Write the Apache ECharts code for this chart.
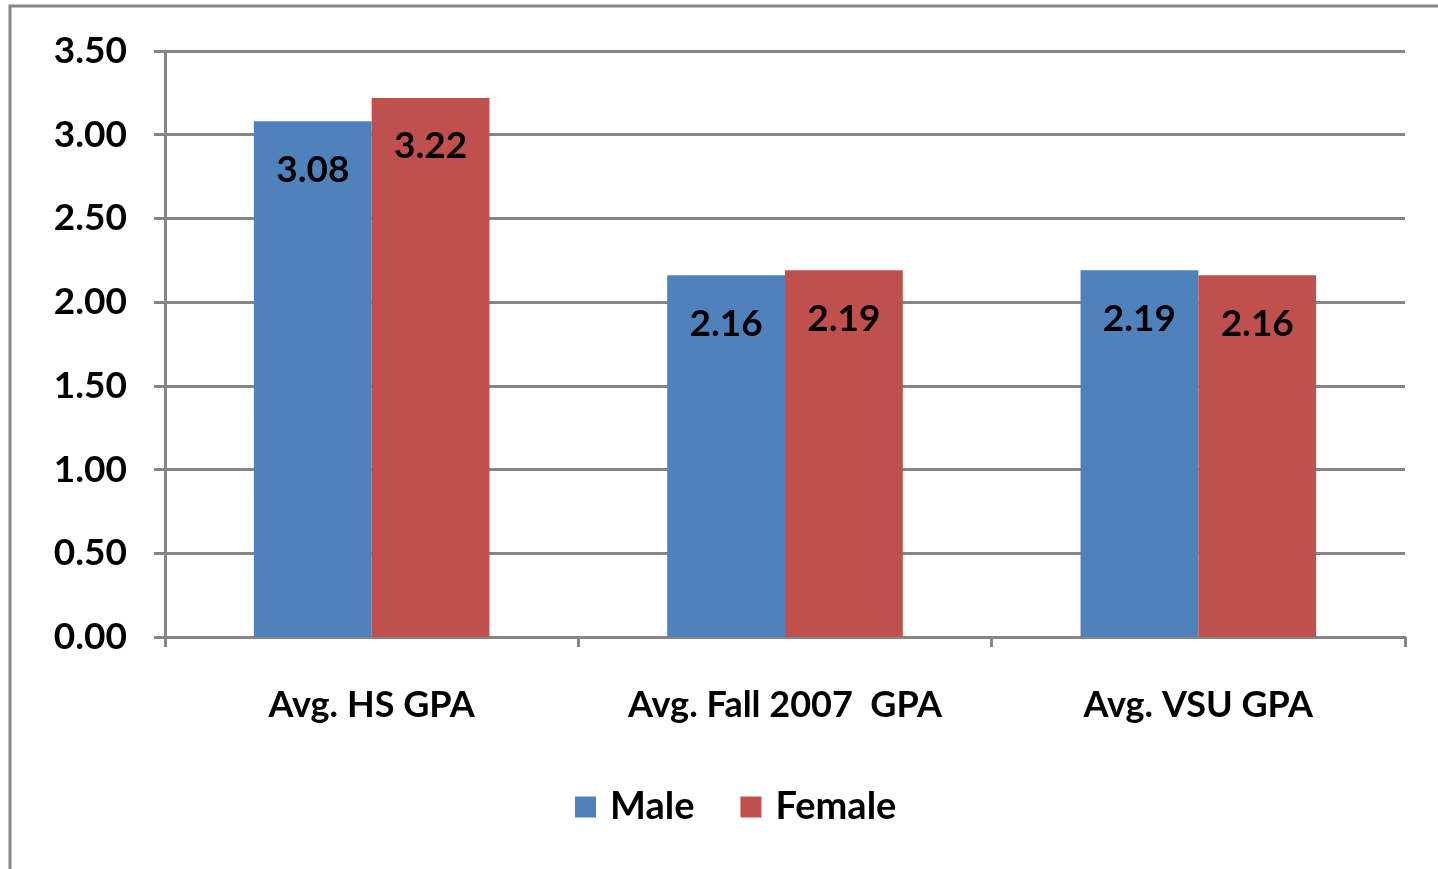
<!DOCTYPE html>
<html>
<head>
<meta charset="utf-8">
<script src="https://cdn.jsdelivr.net/npm/echarts@6/dist/echarts.min.js"></script>
<style>
  html, body { margin: 0; padding: 0; background: #fff; }
  #chart { width: 1438px; height: 869px; }
</style>
</head>
<body>
<div id="chart"></div>
<script>
// data
var categories = ['Avg. HS GPA', 'Avg. Fall 2007  GPA', 'Avg. VSU GPA'];
var maleValues = [3.08, 2.16, 2.19];
var femaleValues = [3.22, 2.19, 2.16];
var yTicks = { min: 0, max: 3.5, interval: 0.5 };

var font = 'Lato, "Open Sans", sans-serif';
var gray = '#868686';

var chart = echarts.init(document.getElementById('chart'));

var barLabel = {
  show: true,
  position: 'insideTop',
  distance: 30,
  color: '#000',
  fontFamily: font,
  fontWeight: 'bold',
  fontSize: 37,
  formatter: function (p) { return p.value.toFixed(2); }
};

var option = {
  animation: false,
  backgroundColor: '#fff',
  graphic: [{
    type: 'rect',
    shape: { x: 10, y: 6, width: 1500, height: 900 },
    style: { fill: 'none', stroke: gray, lineWidth: 3 },
    silent: true
  }],
  grid: { left: 165, right: 33, top: 51, bottom: 232 },
  legend: {
    bottom: 38,
    left: 570,
    itemWidth: 21,
    itemHeight: 21,
    itemGap: 46,
    icon: 'rect',
    textStyle: {
      fontFamily: font, fontWeight: 'bold', fontSize: 38, color: '#000',
      padding: [0, 0, 0, 9]
    },
    data: ['Male', 'Female']
  },
  xAxis: {
    type: 'category',
    data: categories,
    axisLine: { lineStyle: { color: gray, width: 3 } },
    axisTick: { show: true, interval: 0, length: 10, lineStyle: { color: gray, width: 3 } },
    axisLabel: {
      interval: 0,
      hideOverlap: false,
      margin: 50,
      color: '#000',
      fontFamily: font,
      fontWeight: 'bold',
      fontSize: 36
    }
  },
  yAxis: {
    type: 'value',
    min: yTicks.min,
    max: yTicks.max,
    interval: yTicks.interval,
    axisLine: { show: true, lineStyle: { color: gray, width: 3 } },
    axisTick: { show: true, length: 11, lineStyle: { color: gray, width: 3 } },
    splitLine: { lineStyle: { color: gray, width: 3 } },
    axisLabel: {
      margin: 38,
      color: '#000',
      fontFamily: font,
      fontWeight: 'bold',
      fontSize: 37,
      formatter: function (v) { return v.toFixed(2); }
    }
  },
  series: [
    {
      name: 'Male',
      type: 'bar',
      data: maleValues,
      barGap: 0,
      barCategoryGap: '43%',
      itemStyle: { color: '#4F81BD' },
      label: barLabel
    },
    {
      name: 'Female',
      type: 'bar',
      data: femaleValues,
      barGap: 0,
      barCategoryGap: '43%',
      itemStyle: { color: '#C0504D' },
      label: barLabel
    }
  ]
};

chart.setOption(option);
</script>
</body>
</html>
